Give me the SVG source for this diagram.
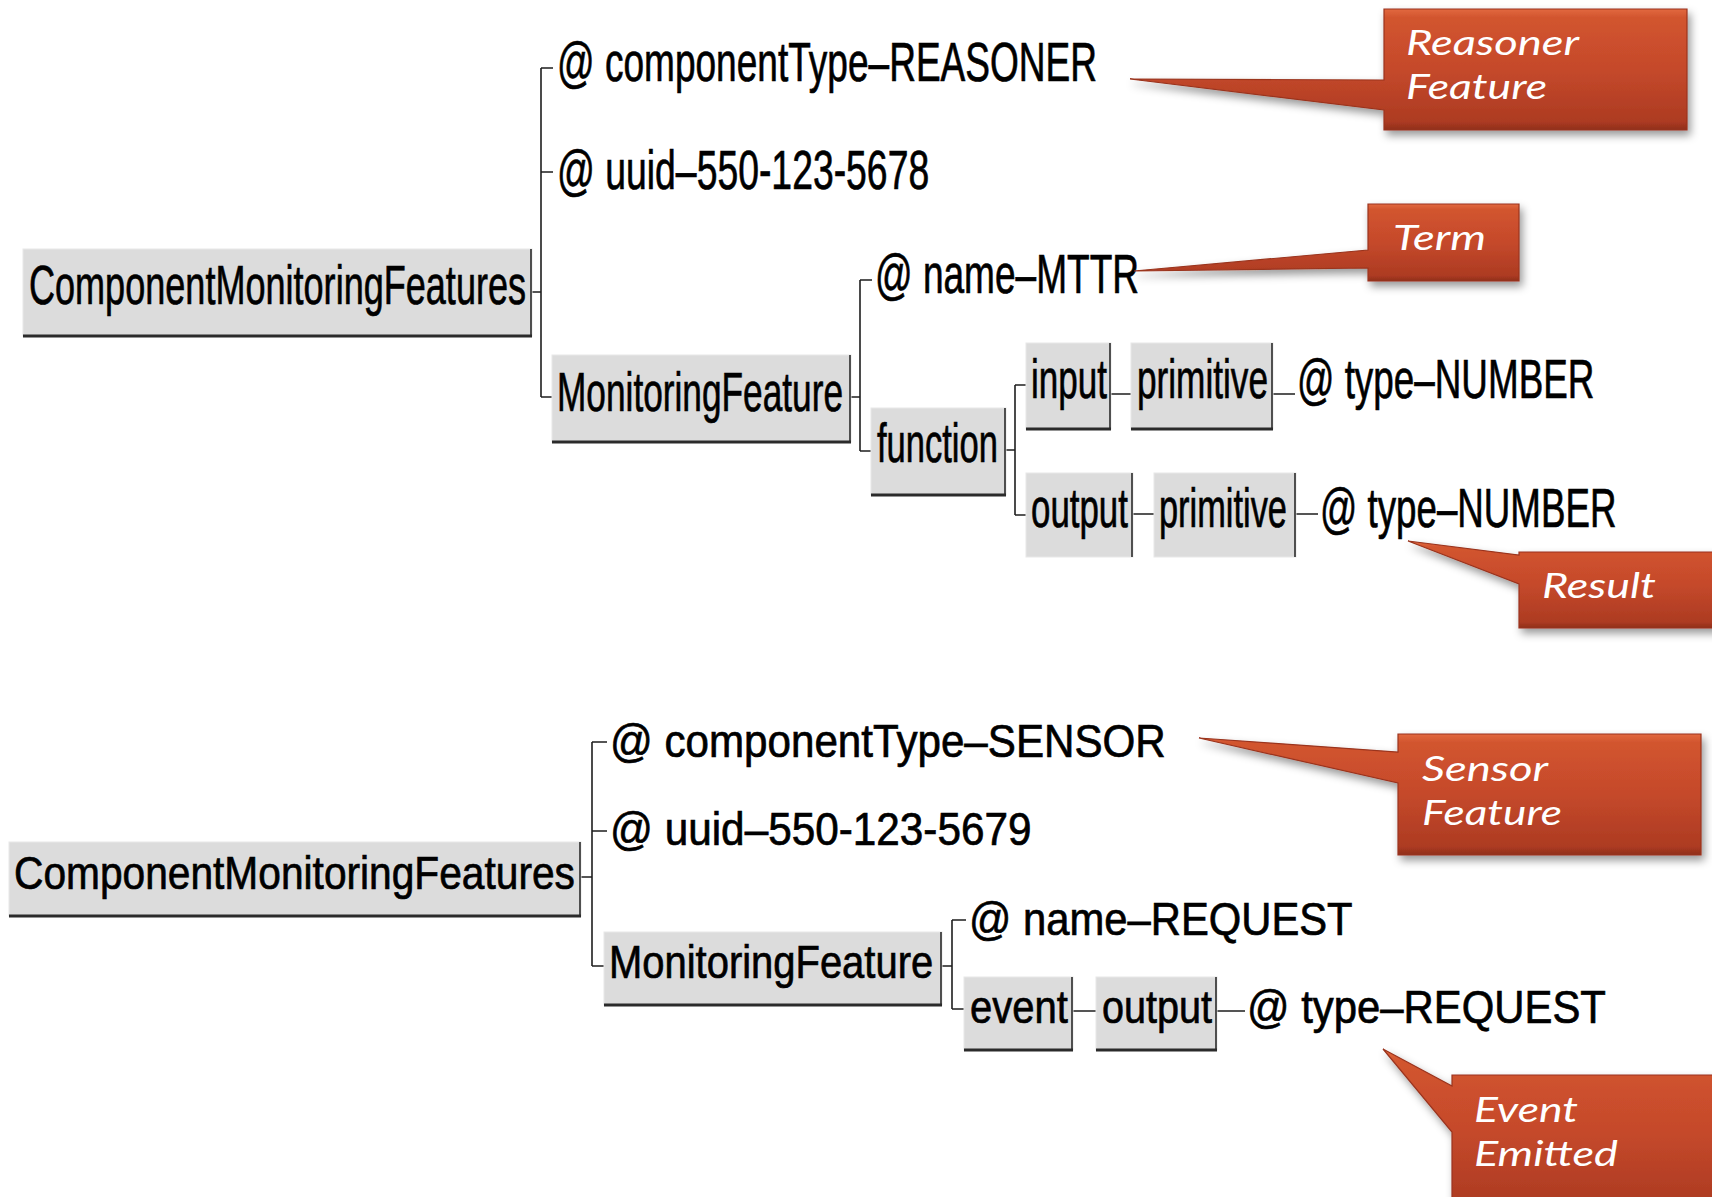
<svg xmlns="http://www.w3.org/2000/svg" width="1712" height="1197" viewBox="0 0 1712 1197">
  <defs>
    <style>
      .box { fill: #dcdcdc; stroke: #e8e8e8; stroke-width: 1; }
      .edge-b { stroke: #2b2b2b; stroke-width: 3; fill: none; }
      .edge-r { stroke: #2b2b2b; stroke-width: 1.6; fill: none; }
      .lbl { font-family: "Liberation Sans", Arial, sans-serif; fill: #000; stroke: #000; stroke-width: 0.7; }
      .big { font-size: 55px; }
      .small { font-size: 47px; }
      .wire { stroke: #1e1e1e; stroke-width: 1.6; fill: none; }
      .callout { fill: url(#calloutFill); stroke: #9a341e; stroke-width: 1.2; filter: url(#shadow); }
      .ctext { font-family: Lato, "Liberation Sans", sans-serif; font-style: italic; font-size: 35px; fill: #ffffff; }
    </style>
    <linearGradient id="calloutFill" x1="0" y1="0" x2="0" y2="1">
      <stop offset="0" stop-color="#e2693f"/>
      <stop offset="0.07" stop-color="#d2552f"/>
      <stop offset="0.5" stop-color="#c5492b"/>
      <stop offset="0.93" stop-color="#ad3b22"/>
      <stop offset="1" stop-color="#8f2f1b"/>
    </linearGradient>
    <filter id="shadow" x="-10%" y="-10%" width="130%" height="140%">
      <feDropShadow dx="3" dy="5" stdDeviation="4" flood-color="#000" flood-opacity="0.4"/>
    </filter>
  </defs>

  <rect x="0" y="0" width="1712" height="1197" fill="#ffffff"/>

  <!-- tree connectors -->
  <g id="connectors">
    <!-- upper tree -->
    <path class="wire" d="M532,292 H541 M541,68 V397 M541,68 H553 M541,172 H553 M541,397 H552"/>
    <path class="wire" d="M851,397 H860 M860,280 V451 M860,280 H872 M860,451 H871"/>
    <path class="wire" d="M1006,450 H1015 M1015,385 V515 M1015,385 H1026 M1015,515 H1026"/>
    <path class="wire" d="M1111,394 H1131 M1273,394 H1295"/>
    <path class="wire" d="M1133,514 H1154 M1296,514 H1318"/>
    <!-- lower tree -->
    <path class="wire" d="M581,877 H592 M592,742 V966 M592,742 H607 M592,831 H607 M592,966 H604"/>
    <path class="wire" d="M942,966 H952 M952,920 V1009 M952,920 H966 M952,1009 H964"/>
    <path class="wire" d="M1073,1011 H1096 M1217,1011 H1245"/>
  </g>

  <!-- upper tree nodes (condensed labels) -->
  <g id="root-reasoner">
    <rect class="box" x="23" y="249" width="509" height="87"/>
    <path class="edge-r" d="M531,249 V336"/>
    <path class="edge-b" d="M23,336 H532"/>
    <text class="lbl big" transform="translate(29,304) scale(0.6556,1)">ComponentMonitoringFeatures</text>
  </g>
  <g id="attr-componentType-reasoner">
    <text class="lbl big" transform="translate(557,81) scale(0.674,1)">@ componentType–REASONER</text>
  </g>
  <g id="attr-uuid-5678">
    <text class="lbl big" transform="translate(557,189) scale(0.679,1)">@ uuid–550-123-5678</text>
  </g>
  <g id="monitoring-feature-mttr">
    <rect class="box" x="552" y="355" width="299" height="87"/>
    <path class="edge-r" d="M850,355 V442"/>
    <path class="edge-b" d="M552,442 H851"/>
    <text class="lbl big" transform="translate(557,411) scale(0.641,1)">MonitoringFeature</text>
  </g>
  <g id="attr-name-mttr">
    <text class="lbl big" transform="translate(875,293) scale(0.674,1)">@ name–MTTR</text>
  </g>
  <g id="function">
    <rect class="box" x="871" y="408" width="135" height="87"/>
    <path class="edge-r" d="M1005,408 V495"/>
    <path class="edge-b" d="M871,495 H1006"/>
    <text class="lbl big" transform="translate(877,462) scale(0.628,1)">function</text>
  </g>
  <g id="input">
    <rect class="box" x="1026" y="343" width="85" height="86"/>
    <path class="edge-r" d="M1110,343 V429"/>
    <path class="edge-b" d="M1026,429 H1111"/>
    <text class="lbl big" transform="translate(1031,398) scale(0.637,1)">input</text>
  </g>
  <g id="input-primitive">
    <rect class="box" x="1131" y="343" width="142" height="86"/>
    <path class="edge-r" d="M1272,343 V429"/>
    <path class="edge-b" d="M1131,429 H1273"/>
    <text class="lbl big" transform="translate(1137,398) scale(0.640,1)">primitive</text>
  </g>
  <g id="input-type">
    <text class="lbl big" transform="translate(1297,398) scale(0.670,1)">@ type–NUMBER</text>
  </g>
  <g id="output">
    <rect class="box" x="1026" y="473" width="107" height="84" stroke="none"/>
    <path class="edge-r" d="M1132,473 V557"/>
    <text class="lbl big" transform="translate(1031,527) scale(0.634,1)">output</text>
  </g>
  <g id="output-primitive">
    <rect class="box" x="1154" y="473" width="142" height="84" stroke="none"/>
    <path class="edge-r" d="M1295,473 V557"/>
    <text class="lbl big" transform="translate(1159,527) scale(0.625,1)">primitive</text>
  </g>
  <g id="output-type">
    <text class="lbl big" transform="translate(1320,527) scale(0.668,1)">@ type–NUMBER</text>
  </g>

  <!-- lower tree nodes -->
  <g id="root-sensor">
    <rect class="box" x="9" y="842" width="572" height="74"/>
    <path class="edge-r" d="M580,842 V916"/>
    <path class="edge-b" d="M9,916 H581"/>
    <text class="lbl small" transform="translate(14,889) scale(0.866,1)">ComponentMonitoringFeatures</text>
  </g>
  <g id="attr-componentType-sensor">
    <text class="lbl small" transform="translate(610,757) scale(0.897,1)">@ componentType–SENSOR</text>
  </g>
  <g id="attr-uuid-5679">
    <text class="lbl small" transform="translate(610,845) scale(0.900,1)">@ uuid–550-123-5679</text>
  </g>
  <g id="monitoring-feature-request">
    <rect class="box" x="604" y="932" width="338" height="73"/>
    <path class="edge-r" d="M941,932 V1005"/>
    <path class="edge-b" d="M604,1005 H942"/>
    <text class="lbl small" transform="translate(609,978) scale(0.850,1)">MonitoringFeature</text>
  </g>
  <g id="attr-name-request">
    <text class="lbl small" transform="translate(969,935) scale(0.889,1)">@ name–REQUEST</text>
  </g>
  <g id="event">
    <rect class="box" x="964" y="977" width="109" height="73"/>
    <path class="edge-r" d="M1072,977 V1050"/>
    <path class="edge-b" d="M964,1050 H1073"/>
    <text class="lbl small" transform="translate(970,1023) scale(0.852,1)">event</text>
  </g>
  <g id="event-output">
    <rect class="box" x="1096" y="977" width="121" height="73"/>
    <path class="edge-r" d="M1216,977 V1050"/>
    <path class="edge-b" d="M1096,1050 H1217"/>
    <text class="lbl small" transform="translate(1102,1023) scale(0.842,1)">output</text>
  </g>
  <g id="event-type">
    <text class="lbl small" transform="translate(1247,1023) scale(0.891,1)">@ type–REQUEST</text>
  </g>

  <!-- callouts -->
  <g id="callout-reasoner">
    <path class="callout" d="M1384,9 H1687 V130 H1384 V110 L1130,79 L1384,80 Z"/>
    <text class="ctext" x="1406" y="55" textLength="173" lengthAdjust="spacingAndGlyphs">Reasoner</text>
    <text class="ctext" x="1406" y="99" textLength="141" lengthAdjust="spacingAndGlyphs">Feature</text>
  </g>
  <g id="callout-term">
    <path class="callout" d="M1368,204 H1519 V281 H1368 V268 L1134,271 L1368,250 Z"/>
    <text class="ctext" x="1393" y="250" textLength="93" lengthAdjust="spacingAndGlyphs">Term</text>
  </g>
  <g id="callout-result">
    <path class="callout" d="M1519,552 H1730 V628 H1519 V584 L1408,541 L1519,555 Z"/>
    <text class="ctext" x="1542" y="598" textLength="114" lengthAdjust="spacingAndGlyphs">Result</text>
  </g>
  <g id="callout-sensor">
    <path class="callout" d="M1398,734 H1701 V855 H1398 V783 L1199,738 L1398,752 Z"/>
    <text class="ctext" x="1422" y="781" textLength="126" lengthAdjust="spacingAndGlyphs">Sensor</text>
    <text class="ctext" x="1422" y="825" textLength="140" lengthAdjust="spacingAndGlyphs">Feature</text>
  </g>
  <g id="callout-event">
    <path class="callout" d="M1452,1075 H1730 V1215 H1452 V1132 L1383,1049 L1452,1086 Z"/>
    <text class="ctext" x="1474" y="1122" textLength="104" lengthAdjust="spacingAndGlyphs">Event</text>
    <text class="ctext" x="1474" y="1166" textLength="144" lengthAdjust="spacingAndGlyphs">Emitted</text>
  </g>
</svg>
